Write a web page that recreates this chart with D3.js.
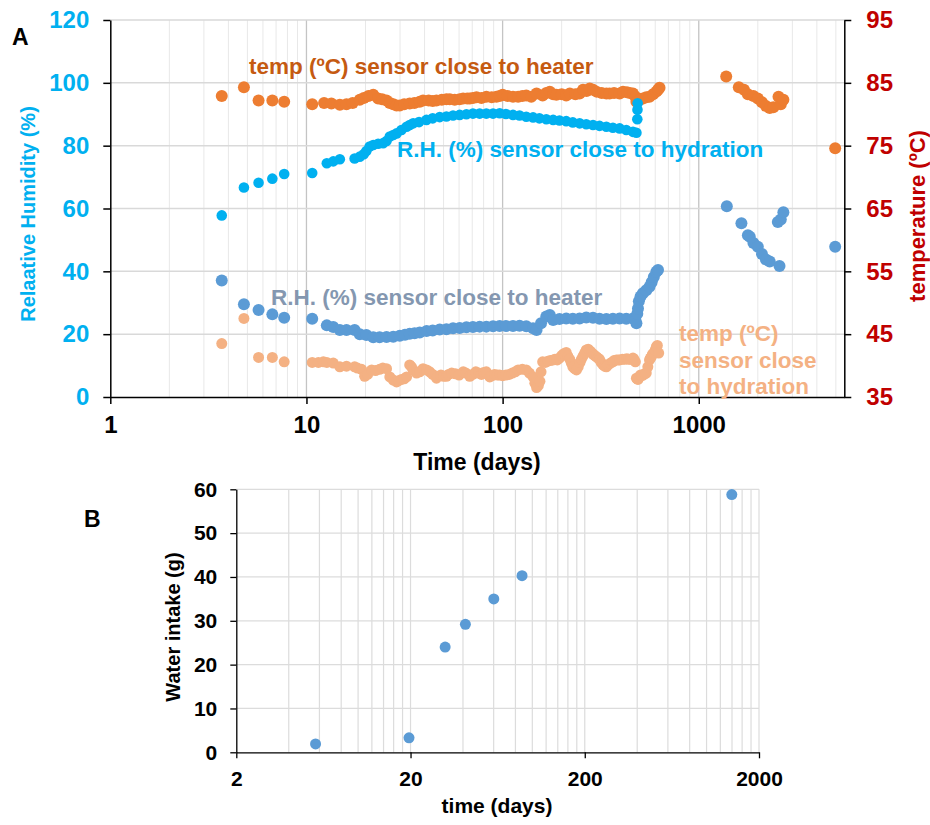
<!DOCTYPE html>
<html lang="en">
<head>
  <meta charset="UTF-8">
  <script src="https://d3js.org/d3.v7.min.js"></script>
  <title>Humidity, temperature and water intake</title>
  <style>
    body { margin: 0; background: #fff; }
    text { font-family: "Liberation Sans", Arial, sans-serif; font-weight: bold; }
  </style>
</head>
<body>
  <script>
    // ---- data (days, value) ----
    // temperature (ºC), sensor close to heater
    const heaterTemp = [
      [3.7,82.9],[4.8,84.3],[5.7,82.2],[6.7,82.2],[7.7,82.0],[10.7,81.6],
      [12.3,81.8],[13.4,81.7],[14.8,81.5],[16,81.6],[17.2,81.8],[18.7,82.3],[19.6,82.6],[20.7,82.9],
      [21.9,83.1],[23.2,82.5],[24.3,82.4],[25.6,82.2],[26.6,81.8],[27.7,81.6],[28.8,81.4],[29.9,81.4],
      [31.5,81.6],[33.6,81.7],[35.5,81.8],[37.8,82.0],[39.3,82.2],[42,82.2],[44,82.1],[46,82.2],
      [49,82.3],[51.7,82.4],[53.8,82.4],[57,82.3],[60.4,82.4],[62.9,82.5],[66,82.5],[68,82.5],
      [70.6,82.6],[73.6,82.7],[78,82.6],[82.6,82.8],[88,82.7],[93,82.8],[96.6,82.9],[100,83.1],
      [106,82.9],[113,82.8],[120,82.8],[126,82.9],[132,83.0],[140,82.8],[149,83.3],[160,83.0],
      [167,83.4],[174,83.6],[181,83.2],[188,83.1],[200,83.2],[211,83.0],[220,83.3],[235,83.2],
      [247,83.3],[257,83.9],[268,83.7],[278,84.1],[289,83.9],[301,83.6],[320,83.4],[338,83.3],
      [351,83.3],[370,83.4],[395,83.3],[411,83.6],[430,83.5],[445,83.4],[462,83.3],[475,82.8],
      [481,82.0],[490,82.2],[505,82.4],[519,82.5],[540,82.7],[561,82.8],[585,83.2],[608,83.6],
      [620,83.9],[631,84.2],
      [1380,86.0],[1600,84.3],[1700,83.9],[1780,83.2],[1900,82.9],[2000,82.5],[2100,81.9],
      [2200,81.3],[2300,81.0],[2400,81.1],[2550,82.8],[2620,81.6],[2700,82.3],[4960,74.6]
    ]

    // R.H. (%), sensor close to hydration
    const hydrationRH = [
      [3.7,57.8],[4.8,66.7],[5.7,68.2],[6.7,69.5],[7.7,71.0],[10.7,71.3],
      [12.7,74.4],[13.7,75.0],[14.8,75.7],[17.6,75.9],[18.7,76.5],[19.6,77.3],[20.2,78.3],[21.0,79.7],
      [21.9,80.2],[23.2,80.6],[24.6,80.8],[25.6,81.5],[26.6,82.9],[27.7,83.4],[28.8,83.9],[30.5,85.0],
      [32.4,86.0],[33.6,86.6],[35,87.1],[37.5,87.5],[40.9,88.2],[44,88.7],[47.8,89.1],[51.7,89.3],
      [55.9,89.6],[60.4,89.8],[65.4,90.0],[70.6,90.2],[76.4,90.2],[82.6,90.2],[89.4,90.2],[96.6,90.3],
      [104,90.1],[113,89.8],[122,89.6],[132,89.2],[143,89.0],[154,88.7],[167,88.4],[181,88.2],
      [195,88.0],[211,87.8],[228,87.4],[247,87.1],[267,86.8],[289,86.6],[312,86.3],[338,86.0],
      [365,85.7],[395,85.5],[427,85.0],[462,84.4],[481,84.1],[486,88.4],[487,91.4],[488,93.5]
    ]

    // R.H. (%), sensor close to heater
    const heaterRH = [
      [3.7,37.1],[4.8,29.5],[5.7,27.7],[6.7,26.3],[7.7,25.2],[10.7,24.9],
      [12.7,22.8],[13.7,22.3],[14.8,21.3],[16,21.3],[17.6,21.3],[18.7,20.0],[20.2,19.7],[21.9,19.0],
      [23.6,19.0],[25.6,19.1],[27.7,19.2],[29.9,19.5],[31.8,19.8],[33.6,20.1],[35.6,20.3],[37.8,20.5],
      [41,21.0],[44,21.2],[47.8,21.5],[51.7,21.6],[55.9,21.9],[60.4,22.0],[65.4,22.2],[70.6,22.3],
      [76.4,22.4],[82.6,22.4],[89.4,22.5],[96.6,22.6],[104,22.6],[113,22.6],[122,22.7],[132,22.5],
      [143,21.9],[149,21.3],[157,23.5],[167,25.6],[174,26.1],[181,24.5],[195,24.8],[211,25.0],
      [228,24.9],[247,25.0],[267,25.3],[289,25.2],[312,24.9],[338,24.8],[365,24.9],[395,25.0],
      [427,24.9],[462,25.0],[475,24.6],[481,23.5],[486,26.5],[490,28.2],[495,30.5],[505,32.0],
      [519,33.0],[540,34.0],[561,35.1],[575,36.5],[590,38.2],[608,39.9],[620,40.4],
      [1390,60.7],[1650,55.3],[1780,51.5],[1820,51.0],[1900,49.0],[2000,47.8],[2100,45.5],
      [2200,43.8],[2300,43.1],[2580,41.7],[2530,55.7],[2620,56.5],[2700,58.8],[4960,47.8]
    ]

    // temperature (ºC), sensor close to hydration
    const hydrationTemp = [
      [3.7,43.5],[4.8,47.5],[5.7,41.3],[6.7,41.3],[7.7,40.6],[10.7,40.5],
      [11.5,40.5],[12.2,40.6],[12.7,40.5],[13.7,40.4],[14.8,39.8],[16,39.9],[17.6,39.8],[18.2,39.6],
      [19.1,39.4],[19.8,38.3],[20.5,38.6],[21.5,39.3],[22.5,39.2],[23.6,39.4],[24.5,39.6],[25.6,39.5],
      [26.6,38.2],[27.7,37.7],[28.8,37.4],[29.5,37.6],[30.5,37.8],[31.5,37.9],[32.4,38.2],[33.6,40.1],
      [34.3,39.8],[35,39.3],[36.4,38.8],[37.8,39.0],[39.3,39.5],[41,39.3],[42.5,39.0],[44,38.6],
      [46,38.0],[48.5,38.5],[50,38.3],[51.7,38.3],[53,38.6],[55,38.8],[57.5,38.7],[60,38.5],
      [63,39.0],[65,38.8],[68,38.3],[70.5,38.6],[73,39.0],[75.5,38.8],[78,38.6],[80,38.9],
      [82.6,39.0],[86,38.2],[88.5,38.4],[91,38.6],[94,38.5],[96.6,38.5],[100,38.4],[104,38.5],
      [108,38.6],[112,38.8],[116,39.0],[120,39.3],[126,39.4],[132,39.3],[137,38.8],[143,38.2],
      [146,37.2],[149,36.5],[152,36.8],[155,37.5],[157,39.0],[160,40.6],[165,40.5],[170,40.7],
      [175,40.8],[181,40.9],[185,41.0],[190,40.9],[195,41.2],[200,41.6],[205,41.9],[211,42.1],
      [215,41.5],[220,41.0],[224,40.4],[228,39.8],[233,39.5],[238,39.3],[243,39.8],[248,40.5],
      [252,41.0],[257,41.5],[262,42.0],[267,42.5],[273,42.6],[280,42.3],[285,42.0],[290,41.8],
      [295,41.6],[301,41.4],[306,41.2],[312,41.0],[318,40.5],[325,40.1],[331,39.9],[338,39.8],
      [345,40.1],[355,40.4],[365,40.6],[370,40.8],[380,40.9],[388,40.9],[395,40.9],[408,41.0],
      [420,41.0],[430,41.1],[440,41.0],[450,41.0],[462,41.2],[468,41.0],[475,40.6],[481,38.0],
      [485,37.9],[490,37.8],[497,38.2],[505,38.5],[512,38.4],[520,38.5],[530,38.7],[540,38.8],
      [550,39.8],[561,40.9],[567,41.2],[573,41.4],[580,41.8],[590,42.0],[600,42.5],[608,43.0],
      [615,43.2],[625,42.0]
    ]

    // panel B
    const waterDays = [5.7, 19.6, 31.6, 41.3, 60.1, 87.3, 1396]
    const waterIntake = [1.9, 3.3, 24.0, 29.2, 35.0, 40.3, 58.8]

    // tick labels
    const rhTicks = [0, 20, 40, 60, 80, 100, 120]
    const tempTicks = [35, 45, 55, 65, 75, 85, 95]
    const timeTicksA = [1, 10, 100, 1000]
    const intakeTicks = [0, 10, 20, 30, 40, 50, 60]
    const timeTicksB = [2, 20, 200, 2000]

    const svg = d3.select("body")
        .append("svg")
        .attr("width", 930)
        .attr("height", 825)

    // ================= panel A =================
    const dimA = { left: 110.3, right: 844.3, top: 20, bottom: 397 }

    const xA = d3.scaleLog().domain([1, 5520]).range([dimA.left, dimA.right])
    const yRH = d3.scaleLinear().domain([0, 120]).range([dimA.bottom, dimA.top])
    const yTemp = d3.scaleLinear().domain([35, 95]).range([dimA.bottom, dimA.top])

    const minorA = []
    for (let n = 0; n < 4; n++) {
      for (let k = 2; k <= 9; k++) {
        const v = k * Math.pow(10, n)
        if (v < 5520) minorA.push(v)
      }
    }
    const gridA = svg.append("g")
    gridA.selectAll(".vminor").data(minorA).join("line")
        .attr("x1", d => xA(d)).attr("x2", d => xA(d))
        .attr("y1", dimA.top).attr("y2", dimA.bottom)
        .attr("stroke", "#e8e8e8").attr("stroke-width", 1)
    gridA.selectAll(".vmajor").data([10, 100, 1000]).join("line")
        .attr("x1", d => xA(d)).attr("x2", d => xA(d))
        .attr("y1", dimA.top).attr("y2", dimA.bottom)
        .attr("stroke", "#c4c4c4").attr("stroke-width", 1.3)
    gridA.selectAll(".hgrid").data(rhTicks.slice(1)).join("line")
        .attr("x1", dimA.left).attr("x2", dimA.right)
        .attr("y1", d => yRH(d)).attr("y2", d => yRH(d))
        .attr("stroke", "#d9d9d9").attr("stroke-width", 1.5)

    function dots(data, yScale, color, r) {
      svg.append("g").selectAll("circle").data(data).join("circle")
          .attr("cx", d => xA(d[0]))
          .attr("cy", d => yScale(d[1]))
          .attr("r", r)
          .attr("fill", color)
    }
    dots(heaterTemp, yTemp, "#ED7D31", 6)
    dots(hydrationRH, yRH, "#00B0F0", 5.3)
    dots(heaterRH, yRH, "#5B9BD5", 6)
    dots(hydrationTemp, yTemp, "#F4B183", 5.5)

    // axes
    const axLeftA = svg.append("g")
        .attr("transform", `translate(${dimA.left},0)`)
        .call(d3.axisLeft(yRH).tickValues(rhTicks).tickSize(7).tickSizeOuter(0).tickPadding(14))
    const axRightA = svg.append("g")
        .attr("transform", `translate(${dimA.right},0)`)
        .call(d3.axisRight(yTemp).tickValues(tempTicks).tickSize(7).tickSizeOuter(0).tickPadding(15))
    const axBottomA = svg.append("g")
        .attr("transform", `translate(0,${dimA.bottom})`)
        .call(d3.axisBottom(xA).tickValues(timeTicksA).tickFormat(d3.format("d")).tickSize(7).tickSizeOuter(0).tickPadding(12))

    ;[[axLeftA, "#00B0F0"], [axRightA, "#C00000"], [axBottomA, "#000"]].forEach(([g, c]) => {
      g.select(".domain").attr("stroke", "#000").attr("stroke-width", 1.5)
      g.selectAll(".tick line").attr("stroke", "#000").attr("stroke-width", 1.5)
      g.selectAll("text").attr("font-size", 24).attr("fill", c)
          .style("font-family", "'Liberation Sans', Arial, sans-serif").style("font-weight", "bold")
    })

    svg.append("text").attr("x", 12).attr("y", 45).attr("font-size", 23).text("A")

    svg.append("text")
        .attr("transform", "translate(35,214) rotate(-90)")
        .attr("text-anchor", "middle").attr("font-size", 20).attr("fill", "#00B0F0")
        .text("Relaative Humidity (%)")
    svg.append("text")
        .attr("transform", "translate(925,216) rotate(-90)")
        .attr("text-anchor", "middle").attr("font-size", 22).attr("fill", "#C00000")
        .text("temperature (ºC)")
    svg.append("text")
        .attr("x", 477).attr("y", 470)
        .attr("text-anchor", "middle").attr("font-size", 23).attr("fill", "#000")
        .text("Time (days)")

    // series labels
    svg.append("text").attr("x", 249).attr("y", 74).attr("font-size", 22.5).attr("fill", "#C55A11")
        .text("temp (ºC) sensor close to heater")
    svg.append("text").attr("x", 397).attr("y", 157).attr("font-size", 22.5).attr("fill", "#00B0F0")
        .text("R.H. (%) sensor close to hydration")
    svg.append("text").attr("x", 271).attr("y", 305).attr("font-size", 22.5).attr("fill", "#8497B0")
        .text("R.H. (%) sensor close to heater")
    const hydLbl = svg.append("text").attr("x", 679).attr("y", 341).attr("font-size", 22.5).attr("fill", "#F4B183")
    ;["temp (ºC)", "sensor close", "to hydration"].forEach((t, i) => {
      hydLbl.append("tspan").attr("x", 679).attr("dy", i === 0 ? 0 : 26.5).text(t)
    })

    // ================= panel B =================
    const dimB = { left: 236.3, right: 759, top: 489.3, bottom: 752.3 }

    const xB = d3.scaleLog().domain([2, 2000]).range([dimB.left, dimB.right])
    const yB = d3.scaleLinear().domain([0, 60]).range([dimB.bottom, dimB.top])

    const gridVB = []
    for (let n = 0; n < 3; n++) {
      for (let k = 2; k <= 10; k++) gridVB.push(2 * k * Math.pow(10, n))
    }
    const gridB = svg.append("g")
    gridB.selectAll(".v").data(gridVB).join("line")
        .attr("x1", d => xB(d)).attr("x2", d => xB(d))
        .attr("y1", dimB.top).attr("y2", dimB.bottom)
        .attr("stroke", "#dcdcdc").attr("stroke-width", 1.2)
    gridB.selectAll(".h").data(intakeTicks.slice(1)).join("line")
        .attr("x1", dimB.left).attr("x2", dimB.right)
        .attr("y1", d => yB(d)).attr("y2", d => yB(d))
        .attr("stroke", "#dcdcdc").attr("stroke-width", 1.3)

    svg.append("g").selectAll("circle").data(waterDays).join("circle")
        .attr("cx", d => xB(d))
        .attr("cy", (d, i) => yB(waterIntake[i]))
        .attr("r", 5.5)
        .attr("fill", "#5B9BD5")

    const axLeftB = svg.append("g")
        .attr("transform", `translate(${dimB.left},0)`)
        .call(d3.axisLeft(yB).tickValues(intakeTicks).tickSize(6).tickSizeOuter(0).tickPadding(13))
    const axBottomB = svg.append("g")
        .attr("transform", `translate(0,${dimB.bottom})`)
        .call(d3.axisBottom(xB).tickValues(timeTicksB).tickFormat(d3.format("d")).tickSize(6).tickSizeOuter(0).tickPadding(13))

    ;[axLeftB, axBottomB].forEach(g => {
      g.select(".domain").attr("stroke", "#000").attr("stroke-width", 1.3)
      g.selectAll(".tick line").attr("stroke", "#000").attr("stroke-width", 1.3)
      g.selectAll("text").attr("font-size", 21).attr("fill", "#000")
          .style("font-family", "'Liberation Sans', Arial, sans-serif").style("font-weight", "bold")
    })

    svg.append("text").attr("x", 84).attr("y", 527).attr("font-size", 23).text("B")

    svg.append("text")
        .attr("transform", "translate(180,627) rotate(-90)")
        .attr("text-anchor", "middle").attr("font-size", 20).attr("fill", "#000")
        .text("Water intake (g)")
    svg.append("text")
        .attr("x", 497).attr("y", 813)
        .attr("text-anchor", "middle").attr("font-size", 21).attr("fill", "#000")
        .text("time (days)")
  </script>
</body>
</html>
